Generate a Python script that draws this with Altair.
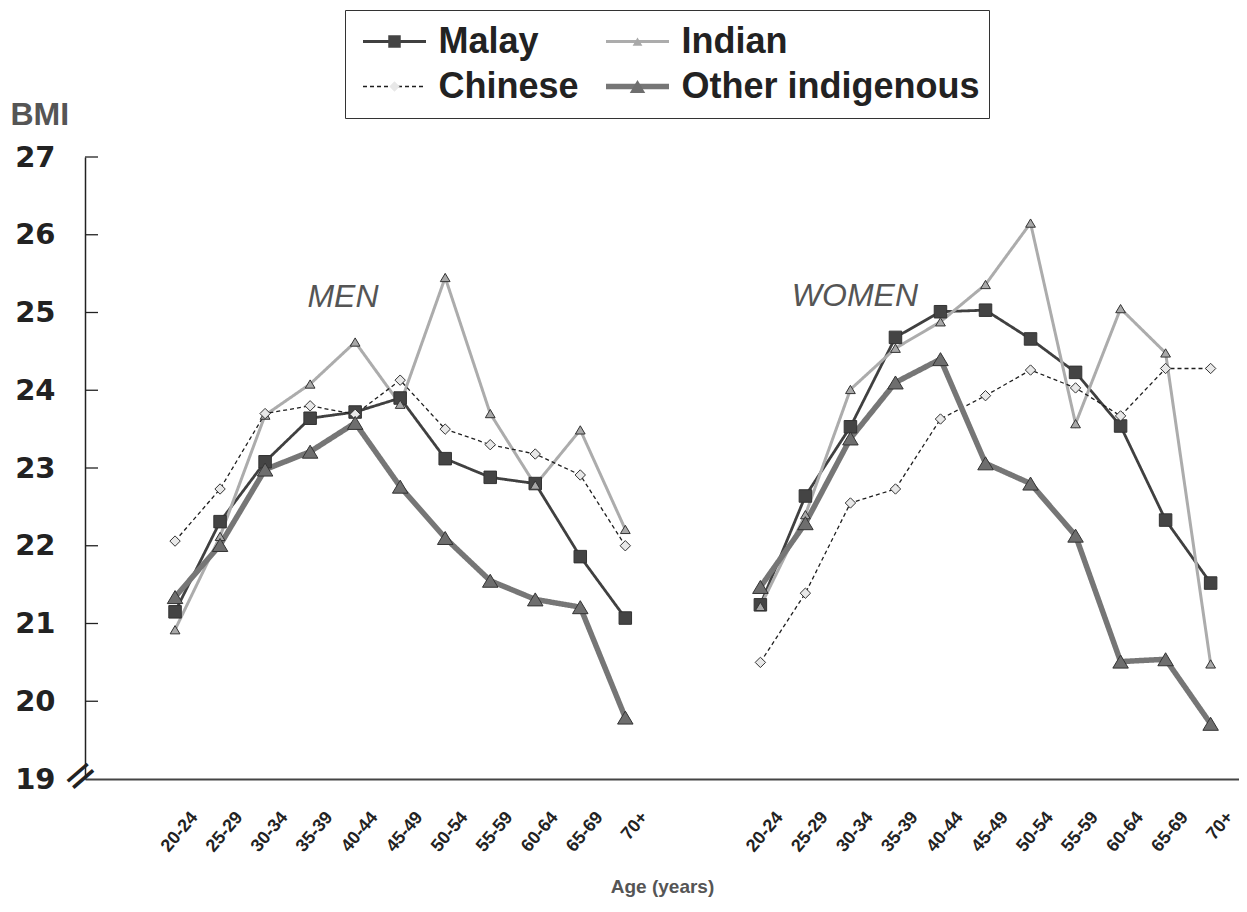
import altair as alt
import pandas as pd

# ---------------- data ----------------
ages = ["20-24", "25-29", "30-34", "35-39", "40-44", "45-49",
        "50-54", "55-59", "60-64", "65-69", "70+"]
groups = ["Malay", "Indian", "Chinese", "Other indigenous"]

men_malay   = [21.15, 22.31, 23.08, 23.64, 23.72, 23.90, 23.12, 22.88, 22.80, 21.86, 21.07]
men_indian  = [20.92, 22.12, 23.68, 24.08, 24.62, 23.82, 25.45, 23.70, 22.78, 23.49, 22.21]
men_chinese = [22.06, 22.73, 23.70, 23.80, 23.69, 24.13, 23.50, 23.30, 23.18, 22.91, 22.00]
men_other   = [21.34, 22.01, 22.98, 23.21, 23.58, 22.76, 22.10, 21.55, 21.31, 21.21, 19.79]

women_malay   = [21.24, 22.64, 23.53, 24.68, 25.01, 25.03, 24.66, 24.23, 23.54, 22.33, 21.52]
women_indian  = [21.22, 22.40, 24.01, 24.54, 24.88, 25.36, 26.15, 23.57, 25.05, 24.48, 20.48]
women_chinese = [20.50, 21.39, 22.55, 22.73, 23.63, 23.93, 24.26, 24.03, 23.67, 24.28, 24.28]
women_other   = [21.47, 22.29, 23.38, 24.10, 24.40, 23.06, 22.80, 22.13, 20.51, 20.54, 19.71]

y_ticks = [19, 20, 21, 22, 23, 24, 25, 26, 27]
panel_labels = ["MEN", "WOMEN"]

# ---------------- layout / style ----------------
WOMEN_SHIFT = 13
XMIN, XMAX = -2.0, 23.63
ZW = "\u200b"
SYM = 625           # symbol size: 1 path unit = 12.5 px
SPAN = " M-2.52,0 M2.52,0"   # invisible extent so legend symbol boxes match the line symbols

# legend is laid out column by column: Malay, Chinese | Indian, Other indigenous
legend_order = ["Malay", "Chinese", "Indian", "Other indigenous"]

line_color = {"Malay": "#404040", "Indian": "#acacac", "Chinese": "#1e1e1e", "Other indigenous": "#767676"}
line_width = {"Malay": 2.8, "Indian": 3.0, "Chinese": 1.3, "Other indigenous": 5.5}
line_dash = {"Malay": [1, 0], "Indian": [1, 0], "Chinese": [4, 3], "Other indigenous": [1, 0]}
marker_fill = {"Malay": "#444444", "Indian": "#a8a8a8", "Chinese": "#e8e8e8", "Other indigenous": "#6e6e6e"}
marker_path = {
    "Malay": "M-0.5,-0.5H0.5V0.5H-0.5Z" + SPAN,
    "Indian": "M0,-0.33L0.39,0.33L-0.39,0.33Z" + SPAN,
    "Chinese": "M0,-0.415L0.415,0L0,0.415L-0.415,0Z" + SPAN,
    "Other indigenous": "M0,-0.52L0.62,0.52L-0.62,0.52Z" + SPAN,
}

series = {
    "Men": (0.0, [men_malay, men_indian, men_chinese, men_other]),
    "Women": (WOMEN_SHIFT, [women_malay, women_indian, women_chinese, women_other]),
}
rows = []
for sex, (shift, vals) in series.items():
    for g, ys in zip(groups, vals):
        for i, (a, v) in enumerate(zip(ages, ys)):
            rows.append({"sex": sex, "group": g, "pt_group": g + ZW, "age": a,
                         "pos": i + shift, "bmi": v, "lw": line_width[g]})
df = pd.DataFrame(rows)

pos_values = list(range(11)) + [i + WOMEN_SHIFT for i in range(11)]
label_js = "[" + ",".join("'%s'" % a for a in ages) + "]"

xscale = alt.Scale(domain=[XMIN, XMAX], nice=False, zero=False)
yscale = alt.Scale(domain=[19, 27], nice=False, zero=False)

xaxis = alt.Axis(
    values=pos_values,
    labelExpr=label_js + "[datum.value < 11 ? round(datum.value) : round(datum.value - %s)]" % WOMEN_SHIFT,
    labelAngle=310, labelAlign="right", labelBaseline="middle",
    labelFont="Liberation Sans", labelFontSize=18, labelFontWeight="bold", labelColor="#222",
    labelPadding=35, labelOffset=19, labelOverlap=False, labelFlush=False,
    ticks=False, tickSize=0, grid=False,
    domainColor="#444", domainWidth=2,
    title="Age (years)", titleFont="Liberation Sans", titleFontSize=19, titleFontWeight="bold",
    titleColor="#555", titleY=113, titleBaseline="alphabetic",
)
yaxis = alt.Axis(
    values=y_ticks, format="d", ticks=False, tickSize=0, grid=False,
    labelPadding=30, labelFont="DejaVu Sans", labelFontSize=29, labelFontWeight="bold",
    labelColor="#222", labelFlush=False,
    domainColor="#222", domainWidth=1.5,
    title="BMI", titleAngle=0, titleX=-75, titleY=-33, titleAlign="left",
    titleBaseline="alphabetic", titleFont="Liberation Sans", titleFontSize=32,
    titleFontWeight="bold", titleColor="#555",
)

leg_common = dict(
    title=None, orient="none", legendX=260, legendY=-147, columns=2,
    clipHeight=45, rowPadding=0, columnPadding=18, padding=9,
    labelFont="Liberation Sans", labelFontSize=36, labelFontWeight="bold",
    labelLimit=600, symbolSize=SYM, symbolOffset=22.5, labelOffset=26,
)
line_legend = alt.Legend(
    **leg_common, symbolType="M-2.52,0H2.52",
    symbolStrokeWidth=alt.ExprRef(
        expr="datum.value === 'Other indigenous' ? 5.5 : (datum.value === 'Chinese' ? 1.3 : 3)"),
    labelColor="#222", strokeColor="#333",
)
pt_legend = alt.Legend(
    **leg_common, symbolStrokeWidth=1, symbolStrokeColor="#333",
    labelOpacity=0, labelColor="#222", labelExpr="replace(datum.label, '" + ZW + "', '')",
)

base = alt.Chart(df)

lines = base.mark_line(interpolate="linear").encode(
    x=alt.X("pos:Q", scale=xscale, axis=xaxis),
    y=alt.Y("bmi:Q", scale=yscale, axis=yaxis),
    color=alt.Color("group:N", scale=alt.Scale(domain=legend_order,
                    range=[line_color[g] for g in legend_order]), legend=line_legend),
    strokeDash=alt.StrokeDash("group:N", scale=alt.Scale(domain=legend_order,
                              range=[line_dash[g] for g in legend_order]), legend=line_legend),
    strokeWidth=alt.StrokeWidth("lw:Q", scale=None),
    detail="sex:N",
    order="pos:Q",
)

pt_domain = [g + ZW for g in legend_order]
points = base.mark_point(filled=True, size=SYM, opacity=1, stroke="#333", strokeWidth=1).encode(
    x=alt.X("pos:Q", scale=xscale, axis=xaxis),
    y=alt.Y("bmi:Q", scale=yscale, axis=yaxis),
    shape=alt.Shape("pt_group:N", scale=alt.Scale(domain=pt_domain,
                    range=[marker_path[g] for g in legend_order]), legend=pt_legend),
    fill=alt.Fill("pt_group:N", scale=alt.Scale(domain=pt_domain,
                  range=[marker_fill[g] for g in legend_order]), legend=pt_legend),
)

tick_df = pd.DataFrame({"bmi": y_ticks[1:]})
inner_ticks = alt.Chart(tick_df).mark_rule(color="#222", strokeWidth=1.3).encode(
    y=alt.Y("bmi:Q", scale=yscale, axis=yaxis),
    x=alt.value(0), x2=alt.value(13),
)

ann_df = pd.DataFrame({"label": panel_labels})
ann_df["pos"] = [3.73, 15.10]
ann_df["bmi"] = [25.2, 25.21]
annotations = alt.Chart(ann_df).mark_text(
    font="Liberation Sans", fontSize=32, fontStyle="italic", color="#555",
    align="center", baseline="middle",
).encode(
    x=alt.X("pos:Q", scale=xscale, axis=xaxis),
    y=alt.Y("bmi:Q", scale=yscale, axis=yaxis),
    text="label:N",
)

brk = alt.Chart(pd.DataFrame({"b": [0]})).mark_text(
    text="=", angle=319, font="DejaVu Sans", fontSize=42, color="#222",
    align="center", baseline="middle", dy=-4,
).encode(x=alt.value(-2), y=alt.Y(datum=19, scale=yscale))

chart = alt.layer(lines, points, inner_ticks, annotations, brk).properties(
    width=1154, height=622,
    padding={"left": 77, "top": 149, "right": 0, "bottom": 119},
    autosize=alt.AutoSizeParams(type="none"),
    background="white",
).configure_view(stroke=None).configure_axis(grid=False)

chart.save("out.html", embed_options={"renderer": "svg", "actions": False})
